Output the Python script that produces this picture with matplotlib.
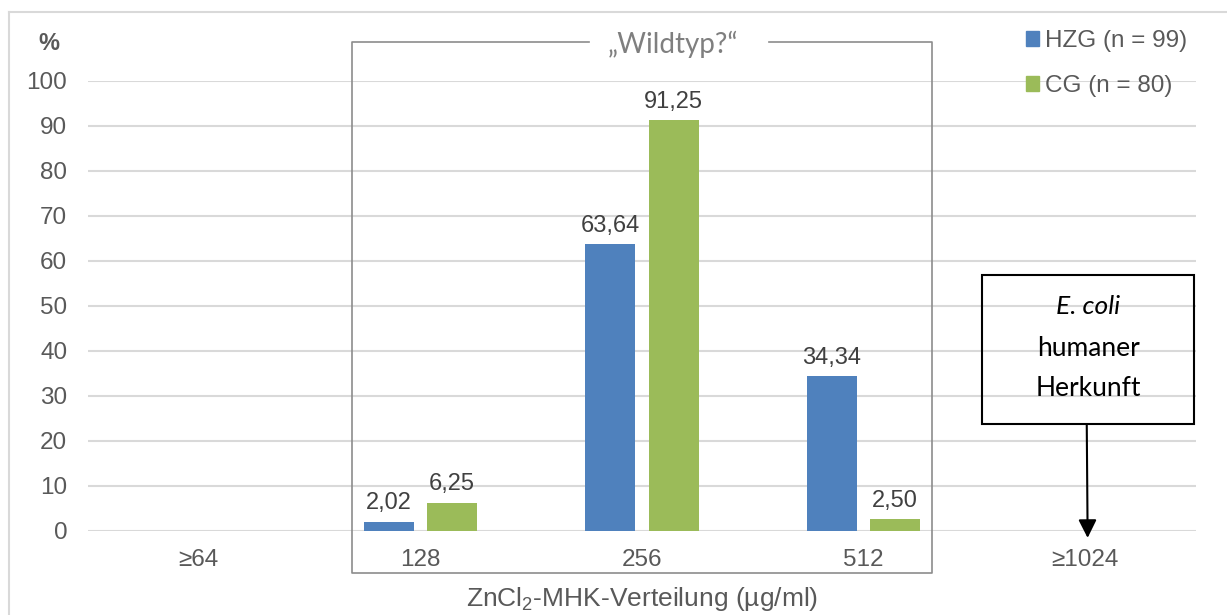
import numpy as np
import matplotlib
matplotlib.use("Agg")
import matplotlib.pyplot as plt
from matplotlib.lines import Line2D
from matplotlib.patches import Rectangle, Patch

plt.rcParams['font.family'] = ['Liberation Sans', 'DejaVu Sans']
plt.rcParams['mathtext.fontset'] = 'custom'
plt.rcParams['mathtext.rm'] = 'Liberation Sans'
plt.rcParams['mathtext.it'] = 'Liberation Sans:italic'

# ZnCl2 MIC distribution (% of isolates per concentration)
categories = ["≥64", "128", "256", "512", "≥1024"]
hzg = [0, 2.02, 63.64, 34.34, 0]
cg = [0, 6.25, 91.25, 2.50, 0]
series_names = ["HZG (n = 99)", "CG (n = 80)"]
yticks = [0, 10, 20, 30, 40, 50, 60, 70, 80, 90, 100]

blue = "#4F81BD"
green = "#9BBB59"
txt = "#595959"
grid = "#D9D9D9"

W, H = 1227, 615
fig = plt.figure(figsize=(W / 100, H / 100), dpi=100)

# light outer chart border
fig.add_artist(Line2D([9 / W, 1], [1 - 12 / H, 1 - 12 / H], color=grid, lw=1.5))
fig.add_artist(Line2D([9 / W, 9 / W], [0, 1 - 12 / H], color=grid, lw=1.5))

ax = fig.add_axes([88 / W, (H - 530.7) / H, 1108 / W, 450 / H])
x = np.arange(len(categories))
bw = 0.225
off = 0.143

def fmt(v):
    return f"{v:.2f}".replace(".", ",")

b1 = ax.bar(x - off, hzg, bw, color=blue, zorder=3)
b2 = ax.bar(x + off, cg, bw, color=green, zorder=3)
for bars, vals in ((b1, hzg), (b2, cg)):
    for rect, v in zip(bars, vals):
        if v > 0:
            ax.annotate(fmt(v), (rect.get_x() + rect.get_width() / 2, v),
                        xytext=(0, 9), textcoords="offset points",
                        ha="center", va="baseline", fontsize=17, color="#404040")

ax.set_xlim(-0.5, len(categories) - 0.5)
ax.set_ylim(0, 100)
ax.set_yticks(yticks)
ax.set_xticks(x)
ax.set_xticklabels(categories)
ax.tick_params(axis="both", length=0, labelsize=17.5, labelcolor=txt)
ax.tick_params(axis="y", pad=15)
ax.tick_params(axis="x", pad=13)
ax.grid(axis="y", color=grid, lw=1.5, zorder=0)
for s in ax.spines.values():
    s.set_visible(False)

# "%" unit label above the y axis
fig.text(49 / W, 1 - 44 / H, "%", ha="center", va="center",
         fontsize=17, fontweight="bold", color=txt)

fig.text(642 / W, 1 - 599 / H, r"ZnCl$_2$-MHK-Verteilung (µg/ml)",
         ha="center", va="center", fontsize=19, color=txt)

# framed wild-type region with a gap for its title
fx0, fx1, fy0, fy1 = 0.691, 3.308, -9.4, 108.6
gx0, gx1 = 1.761, 2.573
frame = dict(color="#8C8C8C", lw=1.2, clip_on=False, zorder=4)
ax.plot([gx0, fx0, fx0, fx1, fx1, gx1], [fy1, fy1, fy0, fy0, fy1, fy1], **frame)
ax.text(2.14, fy1 - 0.6, "„Wildtyp?“", ha="center", va="center", fontsize=20,
        family=["Lato", "DejaVu Sans"], color="#7F7F7F", clip_on=False)

# annotation box with arrow to the highest concentration
ax.add_patch(Rectangle((3.534, 23.7), 4.491 - 3.534, 56.8 - 23.7, fill=False,
                       ec="black", lw=1.5, clip_on=False, zorder=5))
box_font = ["Lato", "DejaVu Sans"]
ax.text(4.013, 49.8, "E. coli", ha="center", va="center", fontsize=19,
        style="italic", family=box_font, clip_on=False)
ax.text(4.013, 40.6, "humaner", ha="center", va="center", fontsize=19,
        family=box_font, clip_on=False)
ax.text(4.013, 31.7, "Herkunft", ha="center", va="center", fontsize=19,
        family=box_font, clip_on=False)
ax.annotate("", xy=(4.011, -1.6), xytext=(4.007, 23.7),
            arrowprops=dict(arrowstyle="-|>,head_length=1.1,head_width=0.55",
                            color="black", lw=1.5, shrinkA=0, shrinkB=0),
            annotation_clip=False)

handles = [Patch(color=blue), Patch(color=green)]
fig.legend(handles, series_names, loc="upper left",
           bbox_to_anchor=(1026 / W, 1 - 30 / H), frameon=False,
           fontsize=17.5, labelcolor=txt, handlelength=0.55, handleheight=0.55,
           handletextpad=0.25, labelspacing=0.95, borderpad=0, borderaxespad=0)

fig.savefig("out.png", dpi=100)
